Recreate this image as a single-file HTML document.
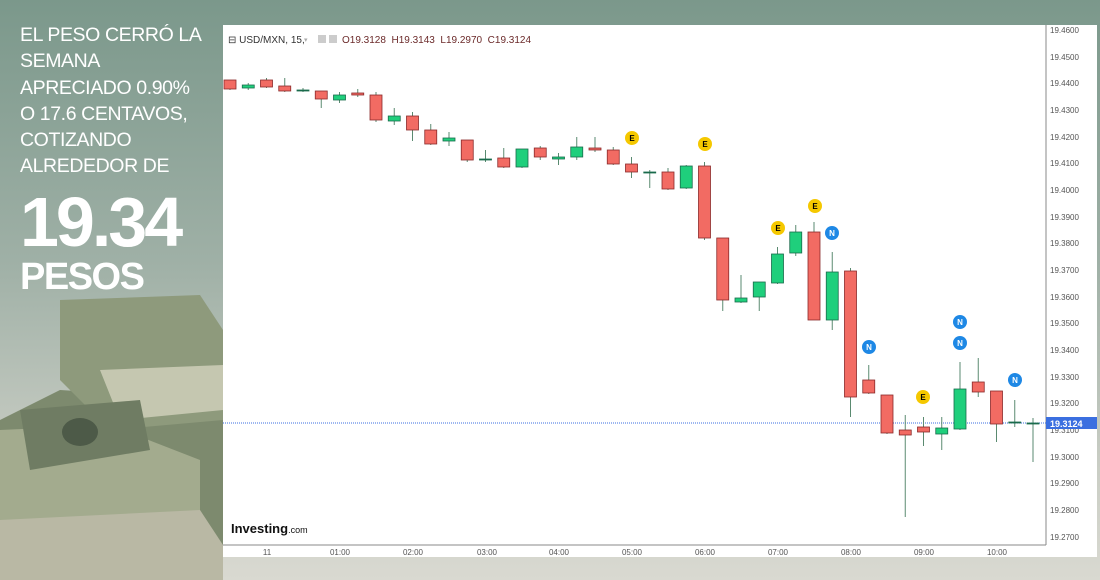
<!DOCTYPE html>
<html><head><meta charset="utf-8"><style>
html,body{margin:0;padding:0}
body{width:1100px;height:580px;overflow:hidden;background:linear-gradient(180deg,#7b988b 0%,#9fb0a6 45%,#c9cdc4 80%,#d9d9d1 100%);font-family:"Liberation Sans",sans-serif;position:relative}
.t{position:absolute;left:20px;color:#fff;font-size:19.5px;line-height:26.3px;top:22px;letter-spacing:-0.4px}
.big{position:absolute;left:20px;top:182px;color:#fff;font-weight:bold;font-size:70px;letter-spacing:-3px}
.pes{position:absolute;left:20px;top:256px;color:#fff;font-weight:bold;font-size:38px;letter-spacing:-1.5px}
</style></head><body>
<svg width="1100" height="580" style="position:absolute;left:0;top:0">
<g>
<polygon points="0,420 60,390 223,400 223,545 0,560" fill="#7d8a6e"/>
<polygon points="60,300 200,295 223,330 223,420 110,430 60,380" fill="#8e9a7c"/>
<polygon points="0,430 110,425 200,460 200,560 0,560" fill="#a3ab8e"/>
<polygon points="100,370 223,365 223,410 120,420" fill="#c5c7b0"/>
<polygon points="20,410 140,400 150,450 30,470" fill="#6f7c63"/>
<ellipse cx="80" cy="432" rx="18" ry="14" fill="#4d5a48"/>
<polygon points="0,520 200,510 223,545 223,580 0,580" fill="#b9b8a4"/>
</g>
<rect x="223" y="25" width="874" height="532" fill="#fff"/>
<line x1="1046" y1="25" x2="1046" y2="545" stroke="#888"/>
<line x1="223" y1="545" x2="1046" y2="545" stroke="#888"/>
<g font-size="8" fill="#555" font-family="Liberation Sans,sans-serif">
<text x="1050" y="33">19.4600</text><text x="1050" y="60">19.4500</text><text x="1050" y="86">19.4400</text><text x="1050" y="113">19.4300</text><text x="1050" y="140">19.4200</text><text x="1050" y="166">19.4100</text><text x="1050" y="193">19.4000</text><text x="1050" y="220">19.3900</text><text x="1050" y="246">19.3800</text><text x="1050" y="273">19.3700</text><text x="1050" y="300">19.3600</text><text x="1050" y="326">19.3500</text><text x="1050" y="353">19.3400</text><text x="1050" y="380">19.3300</text><text x="1050" y="406">19.3200</text><text x="1050" y="433">19.3100</text><text x="1050" y="460">19.3000</text><text x="1050" y="486">19.2900</text><text x="1050" y="513">19.2800</text><text x="1050" y="540">19.2700</text>
<g text-anchor="middle"><text x="267" y="555">11</text><text x="340" y="555">01:00</text><text x="413" y="555">02:00</text><text x="487" y="555">03:00</text><text x="559" y="555">04:00</text><text x="632" y="555">05:00</text><text x="705" y="555">06:00</text><text x="778" y="555">07:00</text><text x="851" y="555">08:00</text><text x="924" y="555">09:00</text><text x="997" y="555">10:00</text></g>
</g>
<line x1="223" y1="423" x2="1046" y2="423" stroke="#3b6fe0" stroke-dasharray="1,1"/>
<rect x="1046" y="417" width="51" height="12" fill="#3b6fe0"/>
<text x="1050" y="427" font-size="9" font-weight="bold" fill="#fff">19.3124</text>
<g font-size="10" fill="#333"><text x="228" y="43">⊟ USD/MXN, 15,</text><text x="304" y="42" fill="#aaa" font-size="7">▾</text><rect x="318" y="35" width="8" height="8" fill="#ccc"/><rect x="329" y="35" width="8" height="8" fill="#ccc"/>
<text x="342" y="43" fill="#6b2a2a">O19.3128 &#160;H19.3143 &#160;L19.2970 &#160;C19.3124</text></g>
<text x="231" y="533" font-size="13" font-weight="bold" fill="#111">Investing<tspan font-size="9" font-weight="normal">.com</tspan></text>
<g id="c" stroke-width="1"></g>
<g font-size="8" font-weight="bold" text-anchor="middle">
<circle cx="632" cy="138" r="7" fill="#f5c800"/><text x="632" y="141">E</text>
<circle cx="705" cy="144" r="7" fill="#f5c800"/><text x="705" y="147">E</text>
<circle cx="778" cy="228" r="7" fill="#f5c800"/><text x="778" y="231">E</text>
<circle cx="815" cy="206" r="7" fill="#f5c800"/><text x="815" y="209">E</text>
<circle cx="923" cy="397" r="7" fill="#f5c800"/><text x="923" y="400">E</text>
<g fill="#fff"><circle cx="832" cy="233" r="7" fill="#1e88e5"/><text x="832" y="236">N</text>
<circle cx="869" cy="347" r="7" fill="#1e88e5"/><text x="869" y="350">N</text>
<circle cx="960" cy="322" r="7" fill="#1e88e5"/><text x="960" y="325">N</text>
<circle cx="960" cy="343" r="7" fill="#1e88e5"/><text x="960" y="346">N</text>
<circle cx="1015" cy="380" r="7" fill="#1e88e5"/><text x="1015" y="383">N</text></g>
</g>
</svg>
<div class="t">EL PESO CERRÓ LA<br>SEMANA<br>APRECIADO 0.90%<br>O 17.6 CENTAVOS,<br>COTIZANDO<br>ALREDEDOR DE</div>
<div class="big">19.34</div>
<div class="pes">PESOS</div>
<script>
var d=[["r",80,89,80,90],["g",85,88,83,90],["r",80,87,78,88],["r",86,91,78,92],["f",90,91,88,92],["r",91,99,91,108],["g",95,100,92,103],["r",93,95,89,97],["r",95,120,92,122],["g",116,121,108,125],["r",116,130,112,141],["r",130,144,124,145],["g",138,141,132,146],["r",140,160,140,162],["f",159,160,150,162],["r",158,167,148,168],["g",149,167,149,168],["r",148,157,146,160],["g",157,159,153,165],["g",147,157,137,160],["r",148,150,137,152],["r",150,164,147,165],["r",164,172,157,178],["f",172,173,170,188],["r",172,189,168,190],["g",166,188,165,189],["r",166,238,162,240],["r",238,300,238,311],["g",298,302,275,303],["g",282,297,282,311],["g",254,283,247,284],["g",232,253,225,256],["r",232,320,222,320],["g",272,320,252,330],["r",271,397,268,417],["r",380,393,365,394],["r",395,433,395,434],["r",430,435,415,517],["r",427,432,417,446],["g",428,434,417,450],["g",389,429,362,430],["r",382,392,358,397],["r",391,424,391,442],["f",422,423,400,427],["f",423,424,418,462]];
var s="";d.forEach(function(c,i){var x=230+i*18.25;var f=c[0]=="r"?"#f26b63":c[0]=="g"?"#1fcf7c":"#1a6b4c";var st=c[0]=="r"?"#8a2a2a":"#1a6b4c";
s+='<line x1="'+x+'" y1="'+c[3]+'" x2="'+x+'" y2="'+c[4]+'" stroke="#5a8a70"/>';
s+='<rect x="'+(x-6)+'" y="'+c[1]+'" width="12" height="'+Math.max(1,c[2]-c[1])+'" fill="'+f+'" stroke="'+st+'" stroke-width="0.8"/>';});
document.getElementById("c").innerHTML=s;
</script>
</body></html>
